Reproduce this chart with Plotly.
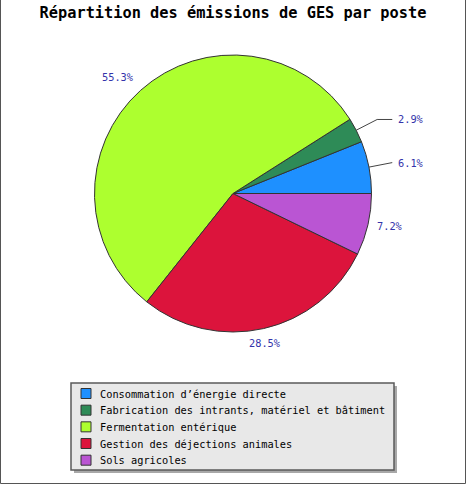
import math

import plotly.graph_objects as go

# données (en %)
postes = [
    "Consommation d’énergie directe",
    "Fabrication des intrants, matériel et bâtiment",
    "Fermentation entérique",
    "Gestion des déjections animales",
    "Sols agricoles",
]
parts = [6.1, 2.9, 55.3, 28.5, 7.2]
couleurs = ["#1e90ff", "#2e8b57", "#adff2f", "#dc143c", "#ba55d3"]

W, H = 468, 486
CX, CY, R = 233.0, 193.5, 138.5  # centre et rayon du camembert en pixels
LABEL_COLOR = "#3333aa"
FONT = "DejaVu Sans Mono"
FS = 10.3


def px(x, y):
    """pixels -> coordonnees paper"""
    return x / W, 1 - y / H


total = sum(parts)
fig = go.Figure()

x0, y0 = px(CX - R, CY + R)
x1, y1 = px(CX + R, CY - R)
fig.add_trace(
    go.Pie(
        labels=postes,
        values=parts,
        sort=False,
        direction="counterclockwise",
        # plotly place la fin de la 1re part à "rotation" en sens trigo
        rotation=90 - 360 * parts[0] / total,
        textinfo="none",
        hoverinfo="label+percent",
        marker=dict(colors=couleurs, line=dict(color="#333333", width=1)),
        domain=dict(x=[x0, x1], y=[y0, y1]),
        showlegend=False,
    )
)

# étiquettes en %, placées autour du camembert
cumul = 0.0
for v in parts:
    theta = 2 * math.pi * (cumul + v / 2) / total
    cumul += v
    texte = f"{v:.1f}%"
    co, si = math.cos(theta), math.sin(theta)
    if v < 7:
        # ligne de rappel : radiale puis horizontale
        ax, ay = CX + R * co, CY - R * si
        bx, by = CX + 1.17 * R * co, CY - 1.17 * R * si
        ex = max(bx, CX + 1.15 * R)
        pts = [px(ax, ay), px(bx, by), px(ex, by)]
        path = "M " + " L ".join(f"{a:.5f},{b:.5f}" for a, b in pts)
        fig.add_shape(type="path", path=path, xref="paper", yref="paper",
                      line=dict(color="#444444", width=1))
        tx, ty = px(ex + 4, by)
        fig.add_annotation(x=tx, y=ty, xref="paper", yref="paper", text=texte,
                           showarrow=False, xanchor="left", yanchor="middle",
                           font=dict(family=FONT, size=FS, color=LABEL_COLOR))
    else:
        # ancrage du texte selon la direction, coin le plus proche à 1.05 R
        xa = "left" if co > 0.3 else ("right" if co < -0.3 else "center")
        ya = "bottom" if si > 0.3 else ("top" if si < -0.3 else "middle")
        tx, ty = px(CX + 1.05 * R * co, CY - 1.05 * R * si)
        fig.add_annotation(x=tx, y=ty, xref="paper", yref="paper", text=texte,
                           showarrow=False, xanchor=xa, yanchor=ya,
                           font=dict(family=FONT, size=FS, color=LABEL_COLOR))

# cadre de l'image
fig.add_shape(type="rect", xref="paper", yref="paper", x0=0.5 / W, x1=465.5 / W,
              y0=1 - 483.5 / H, y1=1.01, line=dict(color="#555555", width=1))

# légende dessinée à la main (ombre, boîte, carrés, textes)
LEG_L, LEG_T, LEG_R, LEG_B = 71, 383, 394, 470
ROW0, ROW_H = 393.5, 16.67
a, b = px(LEG_L + 3, LEG_B + 3)
c, d = px(LEG_R + 3, LEG_T + 3)
fig.add_shape(type="rect", xref="paper", yref="paper", x0=a, y0=b, x1=c, y1=d,
              fillcolor="#a8a8a8", line=dict(width=0))
a, b = px(LEG_L, LEG_B)
c, d = px(LEG_R, LEG_T)
fig.add_shape(type="rect", xref="paper", yref="paper", x0=a, y0=b, x1=c, y1=d,
              fillcolor="#e8e8e8", line=dict(color="#5a5a5a", width=1.5))
for i, (nom, coul) in enumerate(zip(postes, couleurs)):
    yc = ROW0 + i * ROW_H
    a, b = px(81, yc + 5)
    c, d = px(91, yc - 5)
    fig.add_shape(type="rect", xref="paper", yref="paper", x0=a, y0=b, x1=c, y1=d,
                  fillcolor=coul, line=dict(color="#333333", width=1))
    tx, ty = px(98, yc)
    fig.add_annotation(x=tx, y=ty, xref="paper", yref="paper", text=nom,
                       showarrow=False, xanchor="left", yanchor="middle",
                       font=dict(family=FONT, size=FS, color="black"))

fig.update_layout(
    width=W,
    height=H,
    margin=dict(l=0, r=0, t=0, b=0),
    paper_bgcolor="white",
    title=dict(
        text="<b>Répartition des émissions de GES par poste</b>",
        x=0.5 - 1 / W,
        xanchor="center",
        y=1 - 12.5 / H,
        yanchor="middle",
        font=dict(family=FONT, size=15.3, color="black"),
    ),
    showlegend=False,
)

fig.write_html(
    "out.html",
    config={"displayModeBar": False},
    post_script="document.body.style.margin = '0';",
)
